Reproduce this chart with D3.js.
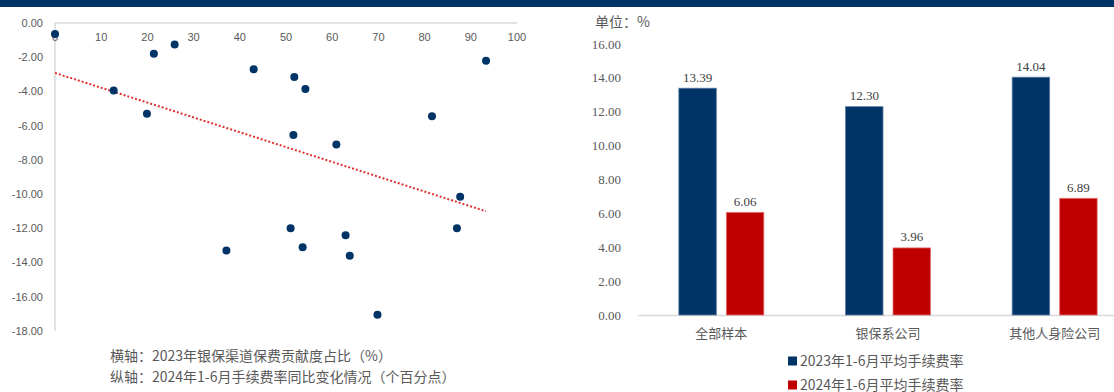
<!DOCTYPE html>
<html>
<head>
<meta charset="utf-8">
<script src="https://cdn.jsdelivr.net/npm/d3@7"></script>
<style>
  body { margin: 0; background: #fff; }
  svg { display: block; }
</style>
</head>
<body>
<svg id="chart" width="1114" height="392"></svg>
<script>
// scatter: 2023 bancassurance share (%) vs 2024 H1 fee rate change (pp)
const shareX  = [0, 12.7, 21.4, 25.9, 19.9, 43.0, 51.8, 54.2, 51.6, 60.9, 81.6, 93.3, 87.7, 87.0, 37.1, 51.0, 53.6, 62.9, 63.8, 69.8];
const changeY = [-0.65, -3.95, -1.8, -1.25, -5.3, -2.7, -3.15, -3.85, -6.55, -7.1, -5.45, -2.2, -10.15, -12.0, -13.3, -12.0, -13.1, -12.4, -13.6, -17.05];
const xTicks  = [0, 10, 20, 30, 40, 50, 60, 70, 80, 90, 100];
const yTicks  = [0, -2, -4, -6, -8, -10, -12, -14, -16, -18];
const captions = ["横轴：2023年银保渠道保费贡献度占比（%）", "纵轴：2024年1-6月手续费率同比变化情况（个百分点）"];

// bars: average fee rate
const categories = ["全部样本", "银保系公司", "其他人身险公司"];
const seriesNames = ["2023年1-6月平均手续费率", "2024年1-6月平均手续费率"];
const rate2023 = [13.39, 12.30, 14.04];
const rate2024 = [6.06, 3.96, 6.89];
const barTicks = [0, 2, 4, 6, 8, 10, 12, 14, 16];

const navy = "#003366",
      red  = "#c00000",
      grey = "#595959",
      axisGrey = "#d9d9d9";

let svg = d3.select("#chart");

// top band
svg.append("rect").attr("x", 0).attr("y", 0).attr("width", 1114).attr("height", 7).attr("fill", navy);

/////////////////////
//     Scatter     //
/////////////////////
let sx = d3.scaleLinear().domain([0, 100]).range([55, 517]),
    sy = d3.scaleLinear().domain([0, -18]).range([23, 331]),
    sc = svg.append("g");

sc.append("line").attr("x1", sx(0)).attr("x2", sx(100)).attr("y1", sy(0)).attr("y2", sy(0))
  .attr("stroke", axisGrey).attr("stroke-width", 1.5);
sc.append("line").attr("x1", sx(0)).attr("x2", sx(0)).attr("y1", sy(0)).attr("y2", sy(-18))
  .attr("stroke", axisGrey).attr("stroke-width", 1.5);

sc.selectAll(".ylab").data(yTicks).enter().append("text")
  .attr("x", 43).attr("y", d => sy(d)).attr("dy", "0.35em")
  .attr("text-anchor", "end")
  .style("font", "11px 'Liberation Sans Narrow', 'Liberation Sans', sans-serif")
  .attr("fill", grey)
  .text(d => d3.format(".2f")(d).replace("−", "-"));

sc.selectAll(".xlab").data(xTicks).enter().append("text")
  .attr("x", d => sx(d)).attr("y", 37).attr("dy", "0.35em")
  .attr("text-anchor", "middle")
  .style("font", "11px 'Liberation Sans Narrow', 'Liberation Sans', sans-serif")
  .attr("fill", grey)
  .text(d => d);

// linear trendline from the points
let n = shareX.length,
    mx = d3.mean(shareX),
    my = d3.mean(changeY),
    slope = d3.sum(shareX, (v, i) => (v - mx) * (changeY[i] - my)) / d3.sum(shareX, v => (v - mx) * (v - mx)),
    icpt = my - slope * mx,
    xMin = d3.min(shareX),
    xMax = d3.max(shareX);

sc.append("line")
  .attr("x1", sx(xMin)).attr("y1", sy(icpt + slope * xMin))
  .attr("x2", sx(xMax)).attr("y2", sy(icpt + slope * xMax))
  .attr("stroke", "#e03030").attr("stroke-width", 2)
  .attr("stroke-dasharray", "2,2");

sc.selectAll("circle").data(shareX).enter().append("circle")
  .attr("cx", d => sx(d))
  .attr("cy", (d, i) => sy(changeY[i]))
  .attr("r", 4)
  .attr("fill", navy);

sc.selectAll(".cap").data(captions).enter().append("text")
  .attr("x", 110).attr("y", (d, i) => 356 + i * 21).attr("dy", "0.35em")
  .style("font", "14px 'Noto Sans CJK SC', sans-serif")
  .attr("fill", grey)
  .text(d => d);

/////////////////////
//      Bars       //
/////////////////////
let bx = d3.scaleBand().domain(categories).range([638, 1138]),
    by = d3.scaleLinear().domain([0, 16]).range([315, 44]),
    bw = 37.5,
    gap = 10,
    bc = svg.append("g"),
    serifFont = "13px 'Liberation Serif', 'Times New Roman', serif";

bc.append("text").attr("x", 595).attr("y", 22).attr("dy", "0.35em")
  .style("font", "14px 'Noto Sans CJK SC', sans-serif").attr("fill", grey)
  .text("单位：%");

bc.selectAll(".ylab").data(barTicks).enter().append("text")
  .attr("x", 621).attr("y", d => by(d)).attr("dy", "0.35em")
  .attr("text-anchor", "end")
  .style("font", serifFont).attr("fill", grey)
  .text(d => d3.format(".2f")(d));

bc.append("line").attr("x1", 638).attr("x2", 1114).attr("y1", by(0) + 0.5).attr("y2", by(0) + 0.5)
  .attr("stroke", axisGrey).attr("stroke-width", 1.5);

let series = [rate2023, rate2024],
    colors = [navy, red];

series.forEach((vals, s) => {
  let offset = s === 0 ? -gap / 2 - bw : gap / 2;
  bc.selectAll(".bar" + s).data(vals).enter().append("rect")
    .attr("x", (d, i) => bx(categories[i]) + bx.bandwidth() / 2 + offset)
    .attr("y", d => by(d))
    .attr("width", bw)
    .attr("height", d => by(0) - by(d))
    .attr("fill", colors[s])
    .attr("stroke", s === 0 ? "#5a7ea6" : "#e07070")
    .attr("stroke-width", 0.8);

  bc.selectAll(".val" + s).data(vals).enter().append("text")
    .attr("x", (d, i) => bx(categories[i]) + bx.bandwidth() / 2 + offset + bw / 2)
    .attr("y", d => by(d) - 11).attr("dy", "0.35em")
    .attr("text-anchor", "middle")
    .style("font", serifFont).attr("fill", "#404040")
    .text(d => d3.format(".2f")(d));
});

bc.selectAll(".cat").data(categories).enter().append("text")
  .attr("x", d => bx(d) + bx.bandwidth() / 2).attr("y", 333).attr("dy", "0.35em")
  .attr("text-anchor", "middle")
  .style("font", "13px 'Noto Sans CJK SC', sans-serif").attr("fill", grey)
  .text(d => d);

// legend
let lg = bc.selectAll(".leg").data(seriesNames).enter().append("g")
  .attr("transform", (d, i) => "translate(788," + (361 + i * 24) + ")");
lg.append("rect").attr("x", 0).attr("y", -4.5).attr("width", 9).attr("height", 9)
  .attr("fill", (d, i) => colors[i]);
lg.append("text").attr("x", 12).attr("dy", "0.35em")
  .style("font", "14px 'Noto Sans CJK SC', sans-serif").attr("fill", grey)
  .text(d => d);
</script>
</body>
</html>
